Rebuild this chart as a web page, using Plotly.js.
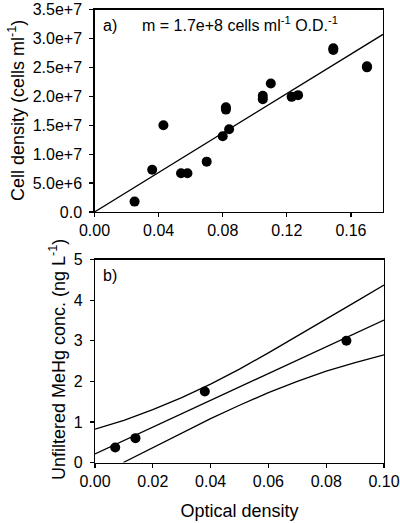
<!DOCTYPE html>
<html>
<head>
<meta charset="utf-8">
<script src="https://cdn.plot.ly/plotly-3.0.1.min.js"></script>
<style>html,body{margin:0;padding:0;background:#fff;}#chart{width:400px;height:523px;}</style>
</head>
<body>
<div id="chart"></div>
<script>
// Panel a) optical density vs cell density
var odA = [0.025, 0.036, 0.043, 0.054, 0.058, 0.070, 0.080, 0.082, 0.082, 0.084, 0.105, 0.105, 0.110, 0.123, 0.127, 0.149, 0.149, 0.170, 0.170];
var cellsA = [1.8e6, 7.3e6, 1.5e7, 6.7e6, 6.7e6, 8.7e6, 1.31e7, 1.77e7, 1.81e7, 1.43e7, 1.95e7, 2.01e7, 2.22e7, 1.99e7, 2.02e7, 2.80e7, 2.83e7, 2.50e7, 2.52e7];
var fitAx = [0, 0.18];
var fitAy = [0, 3.07e7];
var yTickValsA = [0, 5e6, 1e7, 1.5e7, 2e7, 2.5e7, 3e7, 3.5e7];
var yTickTextA = ["0.0", "5.0e+6", "1.0e+7", "1.5e+7", "2.0e+7", "2.5e+7", "3.0e+7", "3.5e+7"];
var xTickValsA = [0, 0.04, 0.08, 0.12, 0.16];
var xTickTextA = ["0.00", "0.04", "0.08", "0.12", "0.16"];

// Panel b) optical density vs unfiltered MeHg
var odB = [0.007, 0.014, 0.038, 0.087];
var mehgB = [0.37, 0.60, 1.75, 3.0];
var fitBx = [0, 0.10];
var fitBy = [0.21, 3.51];
var upperBx = [0, 0.01, 0.02, 0.03, 0.04, 0.05, 0.06, 0.07, 0.08, 0.09, 0.10];
var upperBy = [0.82, 1.04, 1.30, 1.60, 1.93, 2.30, 2.70, 3.11, 3.53, 3.95, 4.37];
var lowerBx = [0.0098, 0.02, 0.03, 0.04, 0.05, 0.06, 0.07, 0.08, 0.09, 0.10];
var lowerBy = [0, 0.37, 0.73, 1.08, 1.41, 1.72, 2.00, 2.25, 2.46, 2.65];
var xTickValsB = [0, 0.02, 0.04, 0.06, 0.08, 0.10];
var xTickTextB = ["0.00", "0.02", "0.04", "0.06", "0.08", "0.10"];
var yTickValsB = [0, 1, 2, 3, 4, 5];

var W = 400, H = 523;
var FONT = "Liberation Sans, Arial, sans-serif";
function px(x){ return x / W; }
function py(y){ return 1 - y / H; }

var line = {color: "#000", width: 1.3};
var mk = {color: "#000", size: 10, symbol: "circle"};

var traces = [
  {x: odA, y: cellsA, mode: "markers", marker: mk, xaxis: "x", yaxis: "y", hoverinfo: "skip"},
  {x: fitAx, y: fitAy, mode: "lines", line: line, xaxis: "x", yaxis: "y", hoverinfo: "skip"},
  {x: odB, y: mehgB, mode: "markers", marker: mk, xaxis: "x2", yaxis: "y2", hoverinfo: "skip"},
  {x: fitBx, y: fitBy, mode: "lines", line: line, xaxis: "x2", yaxis: "y2", hoverinfo: "skip"},
  {x: upperBx, y: upperBy, mode: "lines", line: line, xaxis: "x2", yaxis: "y2", hoverinfo: "skip"},
  {x: lowerBx, y: lowerBy, mode: "lines", line: line, xaxis: "x2", yaxis: "y2", hoverinfo: "skip"}
];

var axBase = {
  showline: true, linecolor: "#000", linewidth: 1.2, mirror: true,
  ticks: "outside", ticklen: 4, tickwidth: 1.2, tickcolor: "#000",
  showgrid: false, zeroline: false, fixedrange: true,
  tickfont: {family: FONT, size: 16, color: "#000"}
};

var layout = {
  width: W, height: H,
  margin: {l: 0, r: 0, t: 0, b: 0},
  paper_bgcolor: "#fff", plot_bgcolor: "#fff",
  showlegend: false,
  font: {family: FONT, color: "#000"},
  xaxis: Object.assign({}, axBase, {domain: [px(94.5), px(383)], range: [0, 0.18], tickmode: "array", tickvals: xTickValsA, ticktext: xTickTextA, anchor: "y"}),
  yaxis: Object.assign({}, axBase, {domain: [py(212), py(9.5)], range: [0, 3.5e7], tickmode: "array", tickvals: yTickValsA, ticktext: yTickTextA, anchor: "x", ticklabelstandoff: 4}),
  xaxis2: Object.assign({}, axBase, {domain: [px(95), px(384)], range: [0, 0.10], tickmode: "array", tickvals: xTickValsB, ticktext: xTickTextB, anchor: "y2",
    title: {text: "Optical density", font: {family: FONT, size: 18, color: "#000"}, standoff: 15}}),
  yaxis2: Object.assign({}, axBase, {domain: [py(462.5), py(259.5)], range: [0, 5], tickmode: "array", tickvals: yTickValsB, anchor: "x2", ticklabelstandoff: 4}),
  annotations: [
    {xref: "paper", yref: "paper", x: px(16), y: py(111), text: "Cell density (cells ml<sup>-1</sup>)", textangle: -90, showarrow: false,
      font: {family: FONT, size: 18, color: "#000"}, xanchor: "center", yanchor: "middle"},
    {xref: "paper", yref: "paper", x: px(57), y: py(360), text: "Unfiltered MeHg conc. (ng L<sup>-1</sup>)", textangle: -90, showarrow: false,
      font: {family: FONT, size: 18, color: "#000"}, xanchor: "center", yanchor: "middle"},
    {xref: "paper", yref: "paper", x: px(101), y: py(25), text: "a)", showarrow: false, xanchor: "left", yanchor: "middle",
      font: {family: FONT, size: 16, color: "#000"}},
    {xref: "paper", yref: "paper", x: px(140), y: py(24), text: "m = 1.7e+8 cells ml<sup>-1</sup> O.D.<sup>-1</sup>", showarrow: false, xanchor: "left", yanchor: "middle",
      font: {family: FONT, size: 16, color: "#000"}},
    {xref: "paper", yref: "paper", x: px(101), y: py(275), text: "b)", showarrow: false, xanchor: "left", yanchor: "middle",
      font: {family: FONT, size: 16, color: "#000"}}
  ]
};

Plotly.newPlot("chart", traces, layout, {displayModeBar: false, staticPlot: true});
</script>
</body>
</html>
